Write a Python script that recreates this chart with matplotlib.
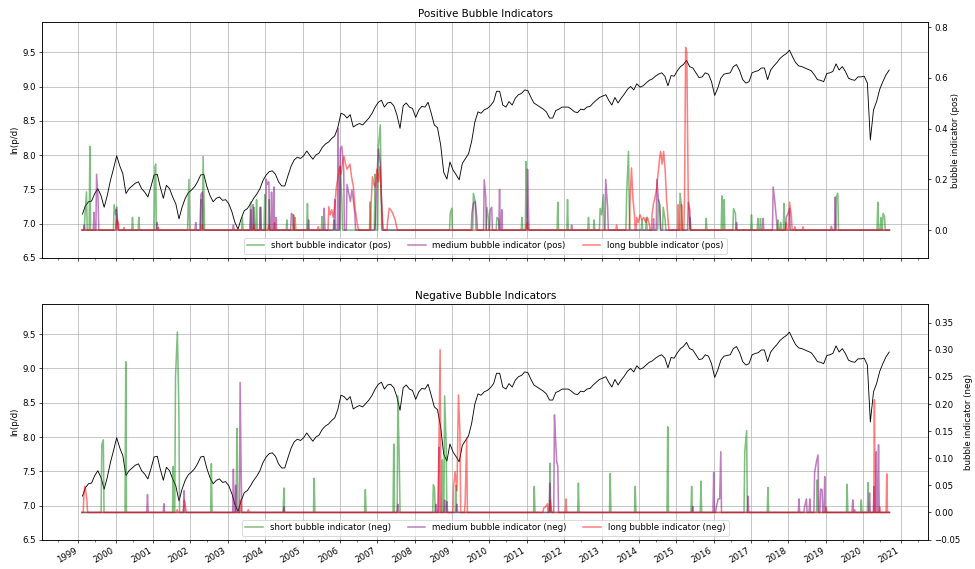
import numpy as np
import pandas as pd
import matplotlib
matplotlib.use("Agg")
import matplotlib.pyplot as plt
import matplotlib.dates as mdates
from matplotlib.ticker import MultipleLocator

# ---------------- data ----------------
# monthly ln(price/dividend), Feb 1999 .. Sep 2020
ln_pd_start, ln_pd_end = "1999-02-01", "2020-09-01"
ln_pd = [
    7.14, 7.26, 7.32, 7.33, 7.44, 7.51, 7.41, 7.24, 7.41, 7.63, 7.80,            # 1999
    7.99, 7.84, 7.73, 7.44, 7.51, 7.55, 7.59, 7.61, 7.51, 7.46, 7.39, 7.54,      # 2000
    7.71, 7.72, 7.54, 7.37, 7.56, 7.51, 7.39, 7.29, 7.07, 7.24, 7.37, 7.45,      # 2001
    7.49, 7.54, 7.61, 7.71, 7.72, 7.54, 7.41, 7.32, 7.37, 7.39, 7.34, 7.35,      # 2002
    7.29, 7.17, 7.02, 6.92, 7.07, 7.19, 7.22, 7.29, 7.37, 7.43, 7.51, 7.63,      # 2003
    7.71, 7.76, 7.77, 7.72, 7.61, 7.55, 7.55, 7.70, 7.84, 7.93, 7.97, 7.95,      # 2004
    7.99, 8.06, 8.00, 7.94, 8.00, 8.03, 8.11, 8.16, 8.19, 8.24, 8.28, 8.40,      # 2005
    8.61, 8.59, 8.54, 8.59, 8.41, 8.44, 8.46, 8.44, 8.49, 8.54, 8.61, 8.70,      # 2006
    8.77, 8.80, 8.70, 8.76, 8.77, 8.72, 8.59, 8.39, 8.72, 8.76, 8.70, 8.68,      # 2007
    8.55, 8.66, 8.71, 8.70, 8.77, 8.61, 8.44, 8.40, 8.15, 7.75, 7.65, 7.90,      # 2008
    7.78, 7.71, 7.64, 7.88, 7.95, 8.02, 8.20, 8.48, 8.63, 8.61, 8.66, 8.68,      # 2009
    8.72, 8.78, 8.93, 8.93, 8.73, 8.70, 8.78, 8.73, 8.83, 8.88, 8.90, 8.95,      # 2010
    8.94, 8.84, 8.76, 8.73, 8.70, 8.67, 8.63, 8.54, 8.54, 8.65, 8.67, 8.70,      # 2011
    8.70, 8.70, 8.67, 8.63, 8.62, 8.67, 8.66, 8.70, 8.71, 8.76, 8.80, 8.84,      # 2012
    8.86, 8.88, 8.80, 8.73, 8.84, 8.76, 8.83, 8.89, 8.96, 9.00, 8.95, 9.04,      # 2013
    8.99, 9.01, 9.05, 9.09, 9.11, 9.15, 9.18, 9.20, 9.15, 9.01, 9.16, 9.15,      # 2014
    9.23, 9.29, 9.32, 9.38, 9.29, 9.27, 9.20, 9.13, 9.14, 9.20, 9.18, 9.07,      # 2015
    8.87, 8.98, 9.12, 9.18, 9.19, 9.20, 9.29, 9.32, 9.23, 9.10, 9.05, 9.07,      # 2016
    9.20, 9.22, 9.23, 9.27, 9.27, 9.10, 9.24, 9.30, 9.35, 9.41, 9.45, 9.48,      # 2017
    9.53, 9.43, 9.35, 9.30, 9.29, 9.27, 9.25, 9.23, 9.17, 9.10, 9.09, 9.07,      # 2018
    9.19, 9.20, 9.22, 9.33, 9.24, 9.29, 9.22, 9.12, 9.10, 9.09, 9.14, 9.14,      # 2019
    9.15, 9.05, 8.22, 8.66, 8.78, 8.96, 9.07, 9.17, 9.24,                        # 2020
]

# indicator series span (decimal years); they are zero except at listed weeks
ind_start, ind_end = 1999.10, 2020.70

# positive indicators: (decimal year, value) of non-zero weeks
short_pos_t = [1999.18, 1999.22, 1999.31, 1999.96, 2000.00, 2000.03, 2000.45, 2000.62, 2001.05, 2001.07,
               2001.94, 2001.96, 2002.28, 2002.34, 2002.36, 2003.39, 2003.61, 2003.70, 2003.77, 2003.88,
               2003.99, 2004.10, 2004.58, 2004.76, 2005.13, 2005.52, 2005.84, 2006.01, 2006.05, 2006.81,
               2006.94, 2007.03, 2007.08, 2007.10, 2008.95, 2008.99, 2009.57, 2009.62, 2009.93, 2009.97,
               2010.20, 2010.25, 2010.87, 2010.98, 2011.00, 2011.83, 2012.09, 2012.65, 2012.80, 2012.96,
               2013.00, 2013.05, 2013.67, 2013.72, 2013.74, 2014.08, 2014.20, 2014.52, 2014.56, 2014.65,
               2014.70, 2015.10, 2015.14, 2015.37, 2015.80, 2016.22, 2016.28, 2016.53, 2016.58, 2017.01,
               2017.18, 2017.25, 2017.72, 2017.79, 2017.88, 2019.28, 2019.32, 2020.39, 2020.47, 2020.53,
               2020.57]
short_pos_v = [0.06, 0.15, 0.33, 0.10, 0.06, 0.09, 0.05, 0.05, 0.25, 0.26,
               0.10, 0.20, 0.12, 0.29, 0.14, 0.05, 0.11, 0.09, 0.12, 0.09,
               0.14, 0.12, 0.04, 0.06, 0.105, 0.053, 0.04, 0.25, 0.12, 0.11,
               0.22, 0.33, 0.415, 0.20, 0.066, 0.086, 0.145, 0.11, 0.09, 0.05,
               0.05, 0.04, 0.05, 0.27, 0.12, 0.11, 0.12, 0.05, 0.04, 0.085,
               0.06, 0.14, 0.145, 0.31, 0.10, 0.04, 0.05, 0.12, 0.07, 0.09,
               0.04, 0.145, 0.09, 0.05, 0.046, 0.135, 0.12, 0.085, 0.066, 0.06,
               0.046, 0.046, 0.04, 0.03, 0.105, 0.13, 0.145, 0.11, 0.05, 0.066,
               0.053]

medium_pos_t = [1999.16, 1999.42, 1999.49, 1999.53, 2000.02, 2000.05, 2001.11, 2002.14, 2002.28, 2002.32,
                2003.15, 2003.62, 2003.68, 2003.87, 2004.03, 2004.06, 2004.10, 2004.17, 2004.23, 2004.29,
                2004.70, 2004.74, 2005.16, 2005.58, 2005.86, 2005.95, 2006.01, 2006.05, 2006.10, 2006.19,
                2006.23, 2006.28, 2006.32, 2006.35, 2006.40, 2006.95, 2006.99, 2007.03, 2007.08, 2007.12,
                2009.53, 2009.57, 2009.62, 2009.66, 2009.86, 2009.90, 2010.02, 2010.06, 2010.27, 2010.33,
                2011.02, 2011.04, 2012.20, 2013.11, 2013.16, 2014.39, 2014.48, 2014.52, 2014.56, 2015.32,
                2015.36, 2016.61, 2017.32, 2017.59, 2017.63, 2017.68, 2017.94, 2017.99, 2018.03, 2019.15,
                2019.25]
medium_pos_v = [0.02, 0.07, 0.22, 0.12, 0.08, 0.04, 0.03, 0.03, 0.14, 0.15,
                0.02, 0.08, 0.10, 0.09, 0.20, 0.18, 0.19, 0.15, 0.17, 0.05,
                0.066, 0.06, 0.04, 0.086, 0.12, 0.40, 0.32, 0.33, 0.24, 0.18,
                0.15, 0.112, 0.158, 0.13, 0.06, 0.04, 0.21, 0.32, 0.26, 0.09,
                0.066, 0.105, 0.112, 0.05, 0.198, 0.13, 0.08, 0.09, 0.16, 0.08,
                0.24, 0.10, 0.02, 0.20, 0.09, 0.045, 0.20, 0.12, 0.10, 0.11,
                0.08, 0.03, 0.046, 0.17, 0.12, 0.04, 0.05, 0.066, 0.086, 0.015,
                0.13]

long_pos_t = [2000.03, 2000.07, 2000.22, 2001.14, 2002.32, 2003.70, 2004.10, 2004.25, 2004.80, 2005.42,
              2005.70, 2005.74, 2005.78, 2005.82, 2005.86, 2005.90, 2005.94, 2005.99, 2006.03, 2006.07,
              2006.11, 2006.15, 2006.19, 2006.23, 2006.27, 2006.31, 2006.36, 2006.40, 2006.44, 2006.48,
              2006.83, 2006.87, 2006.91, 2006.95, 2006.99, 2007.03, 2007.07, 2007.11, 2007.15, 2007.28,
              2007.32, 2007.36, 2007.40, 2007.44, 2007.48, 2007.52, 2010.99, 2011.02, 2013.40, 2013.76,
              2013.80, 2013.84, 2013.88, 2013.94, 2013.98, 2014.03, 2014.08, 2014.13, 2014.18, 2014.23,
              2014.28, 2014.35, 2014.39, 2014.43, 2014.47, 2014.51, 2014.55, 2014.58, 2014.62, 2014.66,
              2014.70, 2014.74, 2014.78, 2015.05, 2015.14, 2015.22, 2015.25, 2015.28, 2015.32, 2015.36,
              2017.94, 2018.03, 2018.08, 2018.17, 2018.39]
long_pos_v = [0.04, 0.03, 0.01, 0.01, 0.02, 0.02, 0.02, 0.03, 0.05, 0.013,
              0.092, 0.06, 0.08, 0.05, 0.09, 0.165, 0.20, 0.25, 0.22, 0.27,
              0.29, 0.26, 0.24, 0.25, 0.26, 0.21, 0.17, 0.09, 0.05, 0.01,
              0.09, 0.21, 0.18, 0.17, 0.24, 0.19, 0.25, 0.12, 0.02, 0.04,
              0.086, 0.08, 0.07, 0.055, 0.04, 0.01, 0.02, 0.03, 0.02, 0.11,
              0.245, 0.12, 0.06, 0.05, 0.03, 0.06, 0.04, 0.05, 0.03, 0.05,
              0.02, 0.06, 0.105, 0.13, 0.16, 0.22, 0.28, 0.31, 0.26, 0.31,
              0.24, 0.12, 0.04, 0.10, 0.10, 0.12, 0.72, 0.70, 0.12, 0.02,
              0.03, 0.11, 0.05, 0.013, 0.013]

# negative indicators
short_neg_t = [1999.63, 1999.67, 2000.27, 2001.54, 2001.60, 2001.65, 2001.69, 2002.56, 2003.23, 2003.25,
               2004.50, 2005.31, 2006.68, 2007.44, 2007.55, 2007.59, 2008.50, 2008.53, 2008.74, 2008.80,
               2008.84, 2009.10, 2011.20, 2011.62, 2012.38, 2013.23, 2013.90, 2014.77, 2015.41, 2015.66,
               2016.83, 2016.88, 2017.45, 2018.77, 2019.57, 2019.95, 2020.13]
short_neg_v = [0.125, 0.134, 0.278, 0.085, 0.25, 0.333, 0.19, 0.09, 0.06, 0.155,
               0.045, 0.063, 0.042, 0.126, 0.215, 0.088, 0.051, 0.045, 0.097, 0.215,
               0.128, 0.05, 0.048, 0.091, 0.054, 0.072, 0.048, 0.158, 0.048, 0.058,
               0.112, 0.151, 0.046, 0.06, 0.052, 0.023, 0.055]

medium_neg_t = [2000.85, 2001.29, 2001.83, 2003.15, 2003.21, 2003.33, 2003.36, 2004.50, 2007.55, 2008.57,
                2008.65, 2008.80, 2008.86, 2009.13, 2011.62, 2011.74, 2011.77, 2011.80, 2011.83, 2015.44,
                2016.00, 2016.07, 2016.12, 2016.16, 2016.19, 2016.92, 2018.28, 2018.43, 2018.48, 2018.57,
                2018.70, 2018.75, 2018.79, 2018.86, 2018.90, 2018.97, 2019.72, 2020.17, 2020.29, 2020.35,
                2020.41]
medium_neg_v = [0.033, 0.016, 0.04, 0.08, 0.05, 0.24, 0.06, 0.01, 0.015, 0.015,
                0.12, 0.023, 0.02, 0.015, 0.054, 0.18, 0.134, 0.094, 0.085, 0.011,
                0.074, 0.01, 0.025, 0.025, 0.112, 0.03, 0.025, 0.01, 0.025, 0.025,
                0.074, 0.094, 0.106, 0.043, 0.042, 0.066, 0.023, 0.036, 0.048, 0.112,
                0.125]

long_neg_t = [1999.15, 1999.17, 1999.19, 1999.23, 2001.65, 2001.83, 2001.87, 2003.34, 2003.55, 2008.64,
              2008.68, 2009.04, 2009.08, 2009.13, 2009.17, 2009.21, 2009.35, 2009.39, 2011.45, 2011.50,
              2011.55, 2011.62, 2011.66, 2012.05, 2019.01, 2019.77, 2020.30, 2020.44, 2020.63]
long_neg_v = [0.03, 0.048, 0.045, 0.023, 0.005, 0.023, 0.01, 0.023, 0.005, 0.085,
              0.30, 0.048, 0.075, 0.04, 0.217, 0.146, 0.02, 0.137, 0.008, 0.01,
              0.016, 0.023, 0.005, 0.025, 0.01, 0.005, 0.208, 0.01, 0.071]

# ---------------- helpers ----------------
WEEK = 7.0 / 365.25


def yr2dt(y):
    yi = int(np.floor(y))
    a = pd.Timestamp(f"{yi}-01-01")
    b = pd.Timestamp(f"{yi + 1}-01-01")
    return a + (b - a) * (y - yi)


def spike_path(ts, vs):
    """Zero baseline with the listed non-zero readings; readings less than ~3 weeks
    apart are joined, isolated ones rise from / fall back to zero one week apart."""
    order = np.argsort(ts)
    xs, ys = [ind_start], [0.0]
    prev = None
    for i in order:
        t, v = ts[i], vs[i]
        if prev is None or t - prev > 2.9 * WEEK:
            if prev is not None:
                xs.append(prev + WEEK); ys.append(0.0)
            xs.append(t - WEEK); ys.append(0.0)
        xs.append(t); ys.append(v)
        prev = t
    xs.append(prev + WEEK); ys.append(0.0)
    xs.append(ind_end); ys.append(0.0)
    return [yr2dt(x) for x in xs], ys


months = pd.date_range(ln_pd_start, ln_pd_end, freq="MS") + pd.Timedelta(days=10)

# ---------------- plot ----------------
DPI = 62
fig, (ax1, ax3) = plt.subplots(2, 1, figsize=(975 / DPI, 569 / DPI), dpi=DPI, sharex=True)
fig.subplots_adjust(left=0.0434, right=0.952, bottom=0.051, top=0.9613, hspace=0.195)

panels = [
    (ax1, "Positive Bubble Indicators", "pos",
     (short_pos_t, short_pos_v), (medium_pos_t, medium_pos_v), (long_pos_t, long_pos_v),
     (-0.11, 0.82), 0.2),
    (ax3, "Negative Bubble Indicators", "neg",
     (short_neg_t, short_neg_v), (medium_neg_t, medium_neg_v), (long_neg_t, long_neg_v),
     (-0.0508, 0.3845), 0.05),
]

for ax, title, tag, sh, me, lo, rlim, rstep in panels:
    ax.plot(months, ln_pd, color="k", lw=1.0)
    ax.set_ylim(6.5, 9.94)
    ax.yaxis.set_major_locator(MultipleLocator(0.5))
    ax.set_ylabel("ln(p/d)")
    ax.grid(True, color="#b0b0b0", lw=0.8)
    ax.set_title(title)
    axr = ax.twinx()
    for (ts, vs), col, name in [(sh, "green", "short"), (me, "purple", "medium"), (lo, "red", "long")]:
        x, y = spike_path(ts, vs)
        axr.plot(x, y, color=col, alpha=0.5, lw=1.8, label=f"{name} bubble indicator ({tag})")
    axr.set_ylim(*rlim)
    axr.yaxis.set_major_locator(MultipleLocator(rstep))
    axr.set_ylabel(f"bubble indicator ({tag})")
    axr.legend(loc="lower center", ncol=3)

ax3.set_xlim(yr2dt(1998.037), yr2dt(2021.738))
ax3.xaxis.set_major_locator(mdates.YearLocator())
ax3.xaxis.set_major_formatter(mdates.DateFormatter("%Y"))
ax3.xaxis.set_minor_locator(mdates.MonthLocator(bymonth=6, bymonthday=15))
ax1.tick_params(labelbottom=False)
for lab in ax3.get_xticklabels():
    lab.set_rotation(30)
    lab.set_ha("right")

fig.savefig("out.png", dpi=DPI)
